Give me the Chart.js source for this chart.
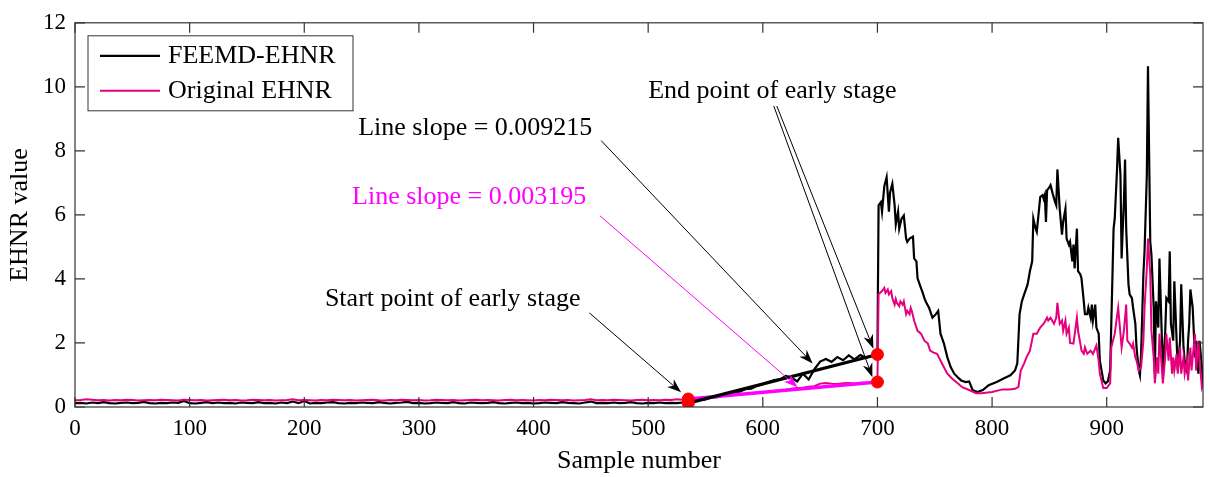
<!DOCTYPE html>
<html lang="en">
<head>
  <meta charset="UTF-8" />
  <title>FEEMD-EHNR vs Original EHNR</title>
  <script src="https://cdn.jsdelivr.net/npm/chart.js@4.4.1/dist/chart.umd.min.js"></script>
  <style>
    body { margin: 0; background: #fff; }
    #wrap { width: 1210px; height: 477px; }
  </style>
</head>
<body>
  <div id="wrap"><canvas id="ehnr" width="1210" height="477"></canvas></div>

  <script>
    // sample grid shared by both series up to the end of the early stage
    const earlySamples = [
      0,5,10,15,20,25,30,35,40,45,50,55,60,65,70,75,80,85,90,95,
      100,105,110,115,120,125,130,135,140,145,150,155,160,165,170,175,180,185,190,195,
      200,205,210,215,220,225,230,235,240,245,250,255,260,265,270,275,280,285,290,295,
      300,305,310,315,320,325,330,335,340,345,350,355,360,365,370,375,380,385,390,395,
      400,405,410,415,420,425,430,435,440,445,450,455,460,465,470,475,480,485,490,495,
      500,505,510,515,520,525,530,535,540,545,550,555,560,565,570,575,580,585,590,595,
      600,605,610,615,620,625,630,635,640,645,650,655,660,665,670,675,680,685,690,695,700
    ];

    const feemdEarly = [
      0.12,0.13,0.11,0.14,0.12,0.15,0.12,0.11,0.13,0.14,
      0.12,0.13,0.16,0.12,0.11,0.13,0.12,0.14,0.13,0.19,
      0.12,0.11,0.13,0.15,0.12,0.14,0.12,0.13,0.11,0.14,
      0.13,0.12,0.15,0.12,0.13,0.11,0.14,0.12,0.17,0.12,
      0.19,0.11,0.13,0.12,0.14,0.15,0.12,0.11,0.13,0.12,
      0.14,0.13,0.12,0.15,0.13,0.11,0.13,0.14,0.16,0.12,
      0.13,0.11,0.12,0.14,0.13,0.12,0.15,0.12,0.11,0.14,
      0.13,0.12,0.13,0.15,0.12,0.11,0.13,0.14,0.12,0.13,
      0.11,0.12,0.14,0.13,0.12,0.15,0.13,0.12,0.11,0.14,
      0.17,0.12,0.13,0.12,0.14,0.12,0.13,0.15,0.12,0.11,
      0.13,0.12,0.14,0.12,0.13,0.12,0.14,
      0.13,0.17,0.22,0.24,0.30,0.31,0.38,0.40,0.46,0.48,
      0.56,0.57,0.66,0.72,0.78,0.84,0.86,0.97,0.92,0.80,
      1.04,0.86,1.18,1.42,1.50,1.41,1.56,1.46,1.61,1.49,
      1.62,1.54,1.60,1.66
    ];

    const originalEarly = [
      0.21,0.22,0.24,0.23,0.21,0.22,0.20,0.22,0.21,0.23,
      0.22,0.20,0.21,0.22,0.21,0.23,0.22,0.21,0.20,0.23,
      0.22,0.21,0.22,0.20,0.21,0.22,0.23,0.21,0.22,0.20,
      0.21,0.23,0.22,0.21,0.22,0.20,0.21,0.22,0.24,0.21,
      0.22,0.21,0.20,0.22,0.21,0.23,0.22,0.21,0.22,0.20,
      0.21,0.22,0.23,0.21,0.20,0.22,0.21,0.23,0.22,0.21,
      0.22,0.20,0.21,0.23,0.22,0.21,0.22,0.20,0.21,0.22,
      0.23,0.21,0.22,0.21,0.20,0.22,0.23,0.21,0.22,0.21,
      0.20,0.22,0.21,0.23,0.22,0.21,0.22,0.20,0.21,0.22,
      0.24,0.21,0.22,0.21,0.23,0.22,0.21,0.20,0.22,0.23,
      0.21,0.22,0.21,0.23,0.22,0.24,0.23,
      0.25,0.26,0.27,0.29,0.30,0.32,0.34,0.35,0.38,0.39,
      0.41,0.43,0.44,0.47,0.48,0.50,0.52,0.54,0.57,0.59,
      0.60,0.63,0.65,0.73,0.75,0.73,0.72,0.74,0.75,0.73,
      0.76,0.75,0.77,0.78
    ];

    // after the early stage
    const feemdLateSamples = [
      701,703,704,706,708,710,711,713,715,716,
      718,719,721,723,725,726,728,731,732,734,
      735,738,739,741,742,745,748,751,753,755,
      758,761,764,767,770,773,777,780,783,787,
      792,797,804,810,816,820,822,824,826,828,
      829,831,833,835,836,838,839,841,842,844,
      845,846,847,848,850,851,853,855,856,857,
      859,861,862,864,865,867,868,870,871,872,
      874,875,877,878,880,881,883,884,886,887,
      888,890,891,893,894,896,897,899,901,903,
      904,906,907,909,910,912,913,914,915,916,
      917,919,920,922,923,925,926,928,929,930,
      932,933,935,936,938,939,941,942,943,945,
      946,948,949,951,952,954,955,956,958,959,
      961,962,964,965,967,968,970,971,972,973,
      975,977,978,980,981,983,984
    ];
    const feemdLate = [
      6.3,6.4,6.1,6.9,7.18,6.1,6.7,6.97,6.3,5.7,
      6.1,5.57,5.88,5.98,5.26,5.16,5.26,5.32,4.64,4.55,
      4.02,3.71,3.62,3.4,3.3,3.1,2.79,2.9,3.0,2.29,
      1.98,1.55,1.24,1.04,0.93,0.83,0.78,0.8,0.53,0.47,
      0.53,0.68,0.78,0.89,0.99,1.14,1.36,2.9,3.3,3.52,
      3.62,3.83,4.24,4.55,5.88,5.57,5.47,6.19,6.56,6.62,
      6.5,6.62,5.78,6.77,6.87,6.93,6.65,6.4,6.3,7.42,
      6.19,5.38,5.78,6.19,5.26,5.07,5.16,4.55,5.07,4.33,
      5.57,4.24,4.14,4.02,3.3,2.9,2.9,3.1,2.79,3.2,
      2.7,3.2,2.48,2.29,1.45,1.04,0.83,0.74,0.8,1.14,
      2.6,5.57,5.88,7.42,8.41,7.24,4.64,5.57,6.4,7.73,
      5.57,3.83,3.52,3.4,3.1,2.6,1.86,1.14,0.99,1.66,
      4.14,4.86,7.24,10.64,5.16,4.76,3.1,1.04,3.3,2.48,
      4.64,2.29,1.14,2.29,3.4,3.3,4.86,2.6,2.07,3.93,
      2.07,1.14,2.07,3.83,1.86,1.45,1.14,2.07,2.6,3.67,
      3.1,1.55,2.07,1.04,2.07,1.24,0.6
    ];

    const originalLateSamples = [
      701,704,706,707,709,710,712,713,715,716,
      717,719,720,722,723,725,726,728,729,730,
      732,735,738,741,744,746,749,752,755,758,
      761,765,770,774,780,786,791,800,809,815,
      820,823,825,828,830,833,836,839,842,845,
      848,849,851,854,856,857,859,861,862,864,
      865,867,868,871,874,875,877,878,880,881,
      883,886,888,891,893,894,896,897,900,903,
      904,907,910,912,913,915,917,918,920,922,
      923,925,926,928,929,930,932,933,935,936,
      938,939,941,942,944,945,946,948,949,951,
      952,954,955,957,958,959,961,962,964,965,
      967,968,970,971,973,974,975,977,978,980,
      981,983,984
    ];
    const originalLate = [
      3.52,3.62,3.72,3.56,3.67,3.52,3.62,3.4,3.2,3.37,
      3.25,3.15,3.3,3.2,3.3,2.9,3.0,2.9,3.1,3.0,
      2.7,2.38,2.29,2.07,1.98,1.76,1.7,1.66,1.45,1.24,
      1.04,0.89,0.74,0.62,0.53,0.43,0.43,0.47,0.55,0.55,
      0.57,0.63,1.14,1.36,1.55,1.76,2.29,2.29,2.48,2.6,
      2.79,2.7,2.79,2.6,2.79,3.25,2.6,2.7,2.38,2.7,
      2.29,2.48,2.0,1.98,2.79,2.38,1.98,1.76,1.66,1.86,
      1.66,1.76,1.66,1.92,1.45,1.04,0.74,0.59,0.59,0.74,
      1.86,2.29,3.1,2.29,1.86,2.38,3.2,2.07,1.98,1.86,
      1.98,1.55,1.45,1.14,1.2,1.24,2.07,3.1,4.33,5.26,
      4.14,2.38,1.55,0.74,1.55,1.04,2.29,1.24,0.74,1.55,
      2.29,1.45,2.17,1.04,1.55,1.14,1.66,1.04,1.86,1.04,
      1.55,1.04,1.45,0.83,1.86,1.14,1.55,2.29,1.14,2.07,
      1.45,0.62,0.75
    ];

    // early stage start / end points and the fitted lines through them
    const stageSamples = [535, 700];
    const feemdFit = [0.12, 1.64];
    const originalFit = [0.25, 0.78];

    const xTicks = [0, 100, 200, 300, 400, 500, 600, 700, 800, 900];
    const yTicks = [0, 2, 4, 6, 8, 10, 12];

    const toPoints = (xs, ys) => xs.map((x, i) => ({ x, y: ys[i] }));
    const feemdPts = toPoints(earlySamples.concat(feemdLateSamples), feemdEarly.concat(feemdLate));
    const originalPts = toPoints(earlySamples.concat(originalLateSamples), originalEarly.concat(originalLate));
    const dots = toPoints(stageSamples, feemdFit).concat(toPoints(stageSamples, originalFit));

    const BLACK = '#000000';
    const PINK = '#E6007E';
    const MAGENTA = '#FF00FF';
    const SERIF = '"Liberation Serif", "Times New Roman", serif';

    // annotation text and arrows, in data units
    const notes = [
      { text: 'End point of early stage', x: 500, y: 9.87, color: BLACK },
      { text: 'Line slope = 0.009215', x: 247, y: 8.72, color: BLACK },
      { text: 'Line slope = 0.003195', x: 241.7, y: 6.56, color: MAGENTA },
      { text: 'Start point of early stage', x: 218, y: 3.37, color: BLACK },
    ];
    const arrows = [
      { from: [448.7, 2.94], to: [528.7, 0.46], color: BLACK },
      { from: [459, 8.32], to: [643.5, 1.36], color: BLACK },
      { from: [458, 5.97], to: [630.4, 0.62], color: MAGENTA },
      { from: [612.2, 9.40], to: [696.5, 1.82], color: BLACK },
      { from: [609.6, 9.40], to: [695.6, 0.93], color: BLACK },
    ];

    function drawArrow(ctx, x1, y1, x2, y2, color) {
      const a = Math.atan2(y2 - y1, x2 - x1);
      const len = 14, half = 5;
      const c = Math.cos(a), s = Math.sin(a);
      ctx.strokeStyle = color;
      ctx.fillStyle = color;
      ctx.lineWidth = 1;
      ctx.beginPath();
      ctx.moveTo(x1, y1);
      ctx.lineTo(x2 - c * len * 0.7, y2 - s * len * 0.7);
      ctx.stroke();
      ctx.beginPath();
      ctx.moveTo(x2, y2);
      ctx.lineTo(x2 - len * c + half * s, y2 - len * s - half * c);
      ctx.lineTo(x2 - len * 0.7 * c, y2 - len * 0.7 * s);
      ctx.lineTo(x2 - len * c - half * s, y2 - len * s + half * c);
      ctx.closePath();
      ctx.fill();
    }

    const decor = {
      id: 'decor',
      afterDraw(chart) {
        const { ctx, chartArea: a, scales } = chart;
        const X = v => scales.x.getPixelForValue(v);
        const Y = v => scales.y.getPixelForValue(v);
        ctx.save();

        // frame with inward ticks on all four sides
        ctx.strokeStyle = '#333';
        ctx.lineWidth = 1.2;
        ctx.strokeRect(a.left, a.top, a.right - a.left, a.bottom - a.top);
        ctx.beginPath();
        const tl = 10;
        xTicks.forEach(t => {
          const p = X(t);
          ctx.moveTo(p, a.bottom); ctx.lineTo(p, a.bottom - tl);
          ctx.moveTo(p, a.top); ctx.lineTo(p, a.top + tl);
        });
        yTicks.forEach(t => {
          const p = Y(t);
          ctx.moveTo(a.left, p); ctx.lineTo(a.left + tl, p);
          ctx.moveTo(a.right, p); ctx.lineTo(a.right - tl, p);
        });
        ctx.stroke();

        // axis titles
        ctx.fillStyle = BLACK;
        ctx.font = '26px ' + SERIF;
        ctx.textAlign = 'center';
        ctx.textBaseline = 'middle';
        ctx.fillText('Sample number', (a.left + a.right) / 2, 461);
        ctx.save();
        ctx.translate(20, 215);
        ctx.rotate(-Math.PI / 2);
        ctx.fillText('EHNR value', 0, 0);
        ctx.restore();

        // arrows and notes
        arrows.forEach(ar => drawArrow(ctx, X(ar.from[0]), Y(ar.from[1]), X(ar.to[0]), Y(ar.to[1]), ar.color));
        ctx.textAlign = 'left';
        notes.forEach(n => {
          ctx.fillStyle = n.color;
          ctx.fillText(n.text, X(n.x), Y(n.y));
        });

        // legend box
        const lx = a.left + 13, ly = a.top + 13, lw = 265, lh = 75;
        ctx.fillStyle = '#fff';
        ctx.fillRect(lx, ly, lw, lh);
        ctx.strokeStyle = '#333';
        ctx.lineWidth = 1;
        ctx.strokeRect(lx, ly, lw, lh);
        const items = [
          { label: 'FEEMD-EHNR', color: BLACK, w: 2.2, y: ly + 20 },
          { label: 'Original EHNR', color: PINK, w: 2, y: ly + 55 },
        ];
        items.forEach(it => {
          ctx.strokeStyle = it.color;
          ctx.lineWidth = it.w;
          ctx.beginPath();
          ctx.moveTo(lx + 12, it.y);
          ctx.lineTo(lx + 72, it.y);
          ctx.stroke();
          ctx.fillStyle = BLACK;
          ctx.fillText(it.label, lx + 80, it.y);
        });
        ctx.restore();
      }
    };

    new Chart(document.getElementById('ehnr'), {
      type: 'line',
      data: {
        datasets: [
          {
            label: 'stage points',
            type: 'scatter',
            data: dots,
            pointRadius: 6,
            pointBackgroundColor: '#FF0000',
            pointBorderColor: '#FF0000',
            showLine: false,
            order: 0,
          },
          {
            label: 'FEEMD fit',
            data: toPoints(stageSamples, feemdFit),
            borderColor: BLACK,
            borderWidth: 3.2,
            pointRadius: 0,
            order: 1,
          },
          {
            label: 'Original fit',
            data: toPoints(stageSamples, originalFit),
            borderColor: MAGENTA,
            borderWidth: 3.5,
            pointRadius: 0,
            order: 1,
          },
          {
            label: 'Original EHNR',
            data: originalPts,
            borderColor: PINK,
            borderWidth: 2,
            pointRadius: 0,
            tension: 0,
            order: 2,
          },
          {
            label: 'FEEMD-EHNR',
            data: feemdPts,
            borderColor: BLACK,
            borderWidth: 2.2,
            pointRadius: 0,
            tension: 0,
            order: 3,
          },
        ]
      },
      options: {
        responsive: false,
        animation: false,
        events: [],
        layout: { padding: { left: 0, top: 19, right: 4, bottom: 0 } },
        plugins: {
          legend: { display: false },
          tooltip: { enabled: false },
        },
        scales: {
          x: {
            type: 'linear',
            min: 0,
            max: 984,
            afterFit: s => { s.height = 70; },
            grid: { display: false, drawTicks: false },
            border: { display: false },
            ticks: {
              stepSize: 100,
              includeBounds: false,
              padding: 8,
              color: BLACK,
              font: { family: SERIF, size: 23 },
              maxRotation: 0,
            },
          },
          y: {
            min: 0,
            max: 12,
            afterFit: s => { s.width = 75; },
            grid: { display: false, drawTicks: false },
            border: { display: false },
            ticks: {
              stepSize: 2,
              padding: 9,
              color: BLACK,
              font: { family: SERIF, size: 23 },
            },
          },
        },
      },
      plugins: [decor],
    });
  </script>
</body>
</html>
